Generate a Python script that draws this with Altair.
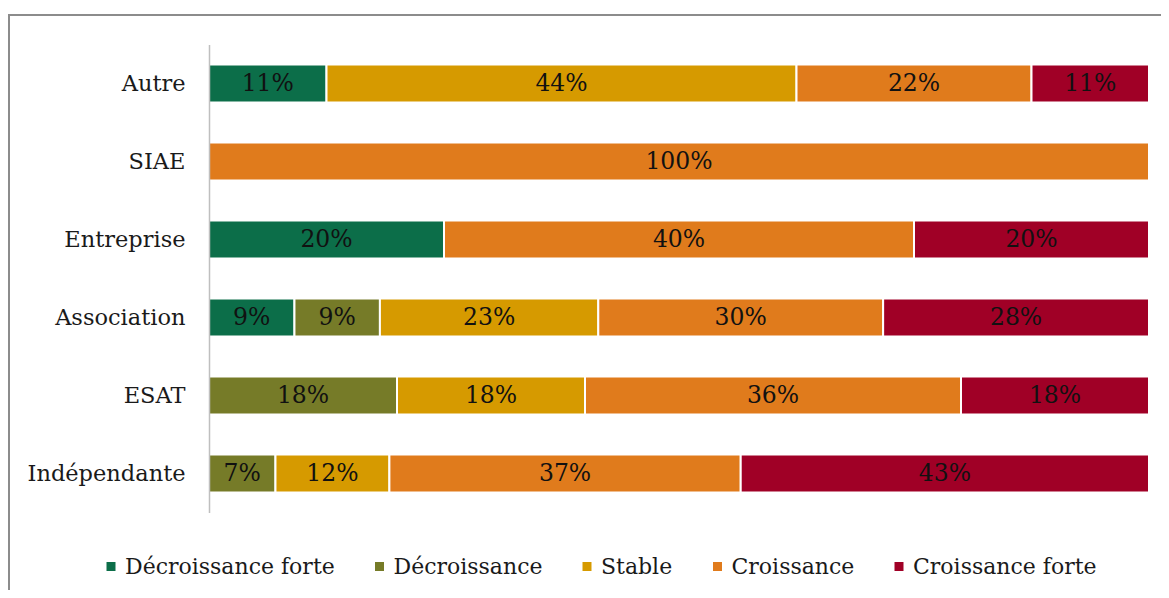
import altair as alt
import pandas as pd

categories = ["Autre", "SIAE", "Entreprise", "Association", "ESAT", "Indépendante"]
series = ["Décroissance forte", "Décroissance", "Stable", "Croissance", "Croissance forte"]
colors = ["#0c6e49", "#767b28", "#d69a00", "#e07b1c", "#a00026"]

# bar shares (segment widths) per series, in category order
share_dec_forte = [12.5, 0, 25, 9, 0, 0]
share_dec = [0, 0, 0, 9, 20, 7]
share_stable = [50, 0, 0, 23, 20, 12]
share_crois = [25, 100, 50, 30, 40, 37]
share_crois_forte = [12.5, 0, 25, 28, 20, 43]

# printed labels per series
label_dec_forte = ["11%", "", "20%", "9%", "", ""]
label_dec = ["", "", "", "9%", "18%", "7%"]
label_stable = ["44%", "", "", "23%", "18%", "12%"]
label_crois = ["22%", "100%", "40%", "30%", "36%", "37%"]
label_crois_forte = ["11%", "", "20%", "28%", "18%", "43%"]

shares = [share_dec_forte, share_dec, share_stable, share_crois, share_crois_forte]
labels = [label_dec_forte, label_dec, label_stable, label_crois, label_crois_forte]

rows = []
for si, s in enumerate(series):
    for ci, c in enumerate(categories):
        if shares[si][ci] > 0:
            rows.append({"cat": c, "serie": s, "ord": si,
                         "share": shares[si][ci], "label": labels[si][ci]})
df = pd.DataFrame(rows)

FONT = "DejaVu Serif"
W, H = 940, 468

base = alt.Chart(df).transform_stack(
    stack="share", groupby=["cat"], as_=["x0", "x1"],
    offset="normalize", sort=[alt.SortField("ord", order="ascending")]
).transform_calculate(mid="(datum.x0 + datum.x1) / 2")

yenc = alt.Y("cat:N", sort=categories, title=None,
             scale=alt.Scale(paddingInner=0.51, paddingOuter=0.255),
             axis=alt.Axis(labelFont=FONT, labelFontSize=22.5, labelColor="#1a1a1a",
                           ticks=False, labelPadding=24, domainColor="#bfbfbf",
                           domainWidth=1.5, grid=False, zindex=1))

bars = base.mark_bar(stroke="white", strokeWidth=2).encode(
    x=alt.X("x0:Q", scale=alt.Scale(domain=[0, 1], nice=False), axis=None),
    x2="x1:Q",
    y=yenc,
    color=alt.Color("serie:N", scale=alt.Scale(domain=series, range=colors),
                    legend=alt.Legend(title=None, orient="none", direction="horizontal",
                                      legendX=-109, legendY=511,
                                      symbolType="square", symbolSize=81,
                                      symbolStrokeWidth=0,
                                      labelFont=FONT, labelFontSize=22,
                                      labelColor="#1a1a1a", labelOffset=3,
                                      columnPadding=33.5, labelLimit=400)),
)

texts = base.mark_text(font=FONT, fontSize=23.5, color="#111111").encode(
    x=alt.X("mid:Q", scale=alt.Scale(domain=[0, 1], nice=False), axis=None),
    y=alt.Y("cat:N", sort=categories),
    text="label:N",
)

frame = alt.Chart(alt.Data(values=[{"f": 1}])).mark_rect(
    fill=None, stroke="#8c8c8c", strokeWidth=2
).encode(
    x=alt.value(-200), x2=alt.value(2000),
    y=alt.value(-29.5), y2=alt.value(2000),
)

chart = alt.layer(frame, bars, texts).properties(
    width=W, height=H,
    background="white",
    autosize=alt.AutoSizeParams(type="none"),
    padding={"left": 201, "top": 36.5, "right": 12, "bottom": 77.5},
).configure_view(strokeWidth=0, stroke="transparent")

chart.save("out.html", embed_options={"renderer": "svg", "actions": False})
